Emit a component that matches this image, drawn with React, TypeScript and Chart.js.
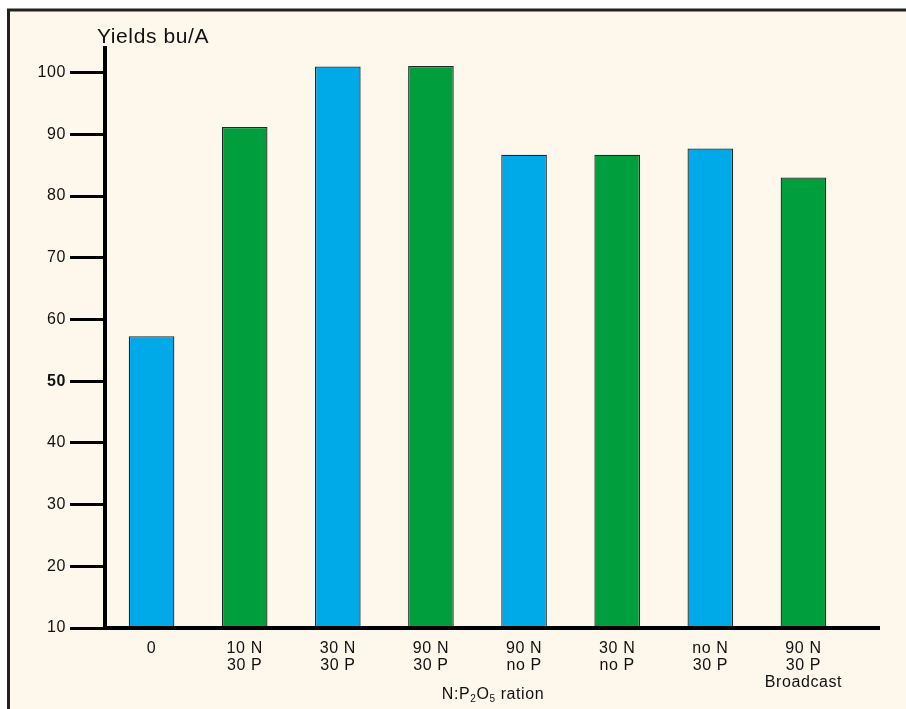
import { useEffect, useRef } from "react";
import { Chart, registerables } from "chart.js";

Chart.register(...registerables);

const categories: string[][] = [
  ["0"],
  ["10 N", "30 P"],
  ["30 N", "30 P"],
  ["90 N", "30 P"],
  ["90 N", "no P"],
  ["30 N", "no P"],
  ["no N", "30 P"],
  ["90 N", "30 P", "Broadcast"],
];
const yields: number[] = [57.3, 91.2, 101.0, 101.1, 86.7, 86.7, 87.7, 83.0];
const barColors: string[] = [
  "#00A9E8",
  "#009E3C",
  "#00A9E8",
  "#009E3C",
  "#00A9E8",
  "#009E3C",
  "#00A9E8",
  "#009E3C",
];
const yMin = 10;
const yMax = 104;
const yStep = 10;
const yTitle = "Yields bu/A";
const xTitleParts: [string, boolean][] = [
  ["N:P", false],
  ["2", true],
  ["O", false],
  ["5", true],
  [" ration", false],
];

const FONT = "'Liberation Sans', Arial, Helvetica, sans-serif";
const SPACING = "0.6px";
const TEXT = "#111111";

const decorPlugin = {
  id: "decor",
  beforeLayout(chart: any) {
    (chart.ctx as any).letterSpacing = SPACING;
  },
  beforeDraw(chart: any) {
    const ctx = chart.ctx as CanvasRenderingContext2D;
    const w = chart.width;
    const h = chart.height;
    ctx.save();
    ctx.fillStyle = "#ffffff";
    ctx.fillRect(0, 0, w, h);
    ctx.fillStyle = "#FEF7EC";
    ctx.fillRect(9, 10, w, h);
    ctx.strokeStyle = "#222222";
    ctx.lineWidth = 3;
    ctx.beginPath();
    ctx.moveTo(8.5, h + 5);
    ctx.lineTo(8.5, 10);
    ctx.lineTo(w + 5, 10);
    ctx.stroke();
    ctx.restore();
    (ctx as any).letterSpacing = SPACING;
  },
  afterDraw(chart: any) {
    const ctx = chart.ctx as CanvasRenderingContext2D;
    const area = chart.chartArea;
    ctx.save();
    (ctx as any).letterSpacing = SPACING;
    // x axis line, extending beyond last category
    ctx.strokeStyle = "#000000";
    ctx.lineWidth = 4;
    ctx.beginPath();
    ctx.moveTo(area.left - 2, area.bottom);
    ctx.lineTo(880, area.bottom);
    ctx.stroke();

    // y axis title
    ctx.fillStyle = TEXT;
    ctx.font = `21px ${FONT}`;
    ctx.textAlign = "left";
    ctx.textBaseline = "alphabetic";
    ctx.fillText(yTitle, 97, 43);

    // x axis title with subscripts
    const big = `16px ${FONT}`;
    const small = `10px ${FONT}`;
    let total = 0;
    for (const [t, sub] of xTitleParts) {
      ctx.font = sub ? small : big;
      total += ctx.measureText(t).width;
    }
    let x = 493 - total / 2;
    const base = 699;
    for (const [t, sub] of xTitleParts) {
      ctx.font = sub ? small : big;
      ctx.fillText(t, x, sub ? base + 3 : base);
      x += ctx.measureText(t).width;
    }
    ctx.restore();
  },
};

export default function App() {
  const ref = useRef<HTMLCanvasElement | null>(null);

  useEffect(() => {
    if (!ref.current) return;
    const chart = new Chart(ref.current, {
      type: "bar",
      data: {
        labels: categories,
        datasets: [
          {
            data: yields,
            backgroundColor: barColors,
            borderColor: "#262626",
            borderWidth: 1.3,
            borderSkipped: "bottom",
            barPercentage: 0.49,
            categoryPercentage: 1,
          },
        ],
      },
      options: {
        animation: false,
        responsive: false,
        maintainAspectRatio: false,
        layout: { padding: { left: 0, top: 48, right: 56, bottom: 0 } },
        plugins: {
          legend: { display: false },
          tooltip: { enabled: false },
          title: { display: false },
        },
        scales: {
          x: {
            grid: { display: false },
            border: { display: false },
            ticks: {
              color: TEXT,
              padding: 4,
              maxRotation: 0,
              autoSkip: false,
              font: { family: FONT, size: 16, lineHeight: 1.07 },
            },
            afterFit(scale: any) {
              scale.height = 81;
            },
          },
          y: {
            min: yMin,
            max: yMax,
            grid: {
              drawOnChartArea: false,
              drawTicks: true,
              tickLength: 35,
              lineWidth: 3,
              color: "#000000",
            },
            border: { display: true, width: 4, color: "#000000" },
            ticks: {
              stepSize: yStep,
              includeBounds: false,
              color: TEXT,
              padding: 4,
              font: (c: any) => ({
                family: FONT,
                size: 16,
                weight: c.tick && c.tick.value === 50 ? "bold" : "normal",
              }),
            },
            afterFit(scale: any) {
              scale.width = 105;
            },
          },
        },
      },
      plugins: [decorPlugin],
    });
    return () => chart.destroy();
  }, []);

  return (
    <div style={{ position: "fixed", left: 0, top: 0, width: 906, height: 709 }}>
      <canvas ref={ref} width={906} height={709} style={{ display: "block" }} />
    </div>
  );
}
